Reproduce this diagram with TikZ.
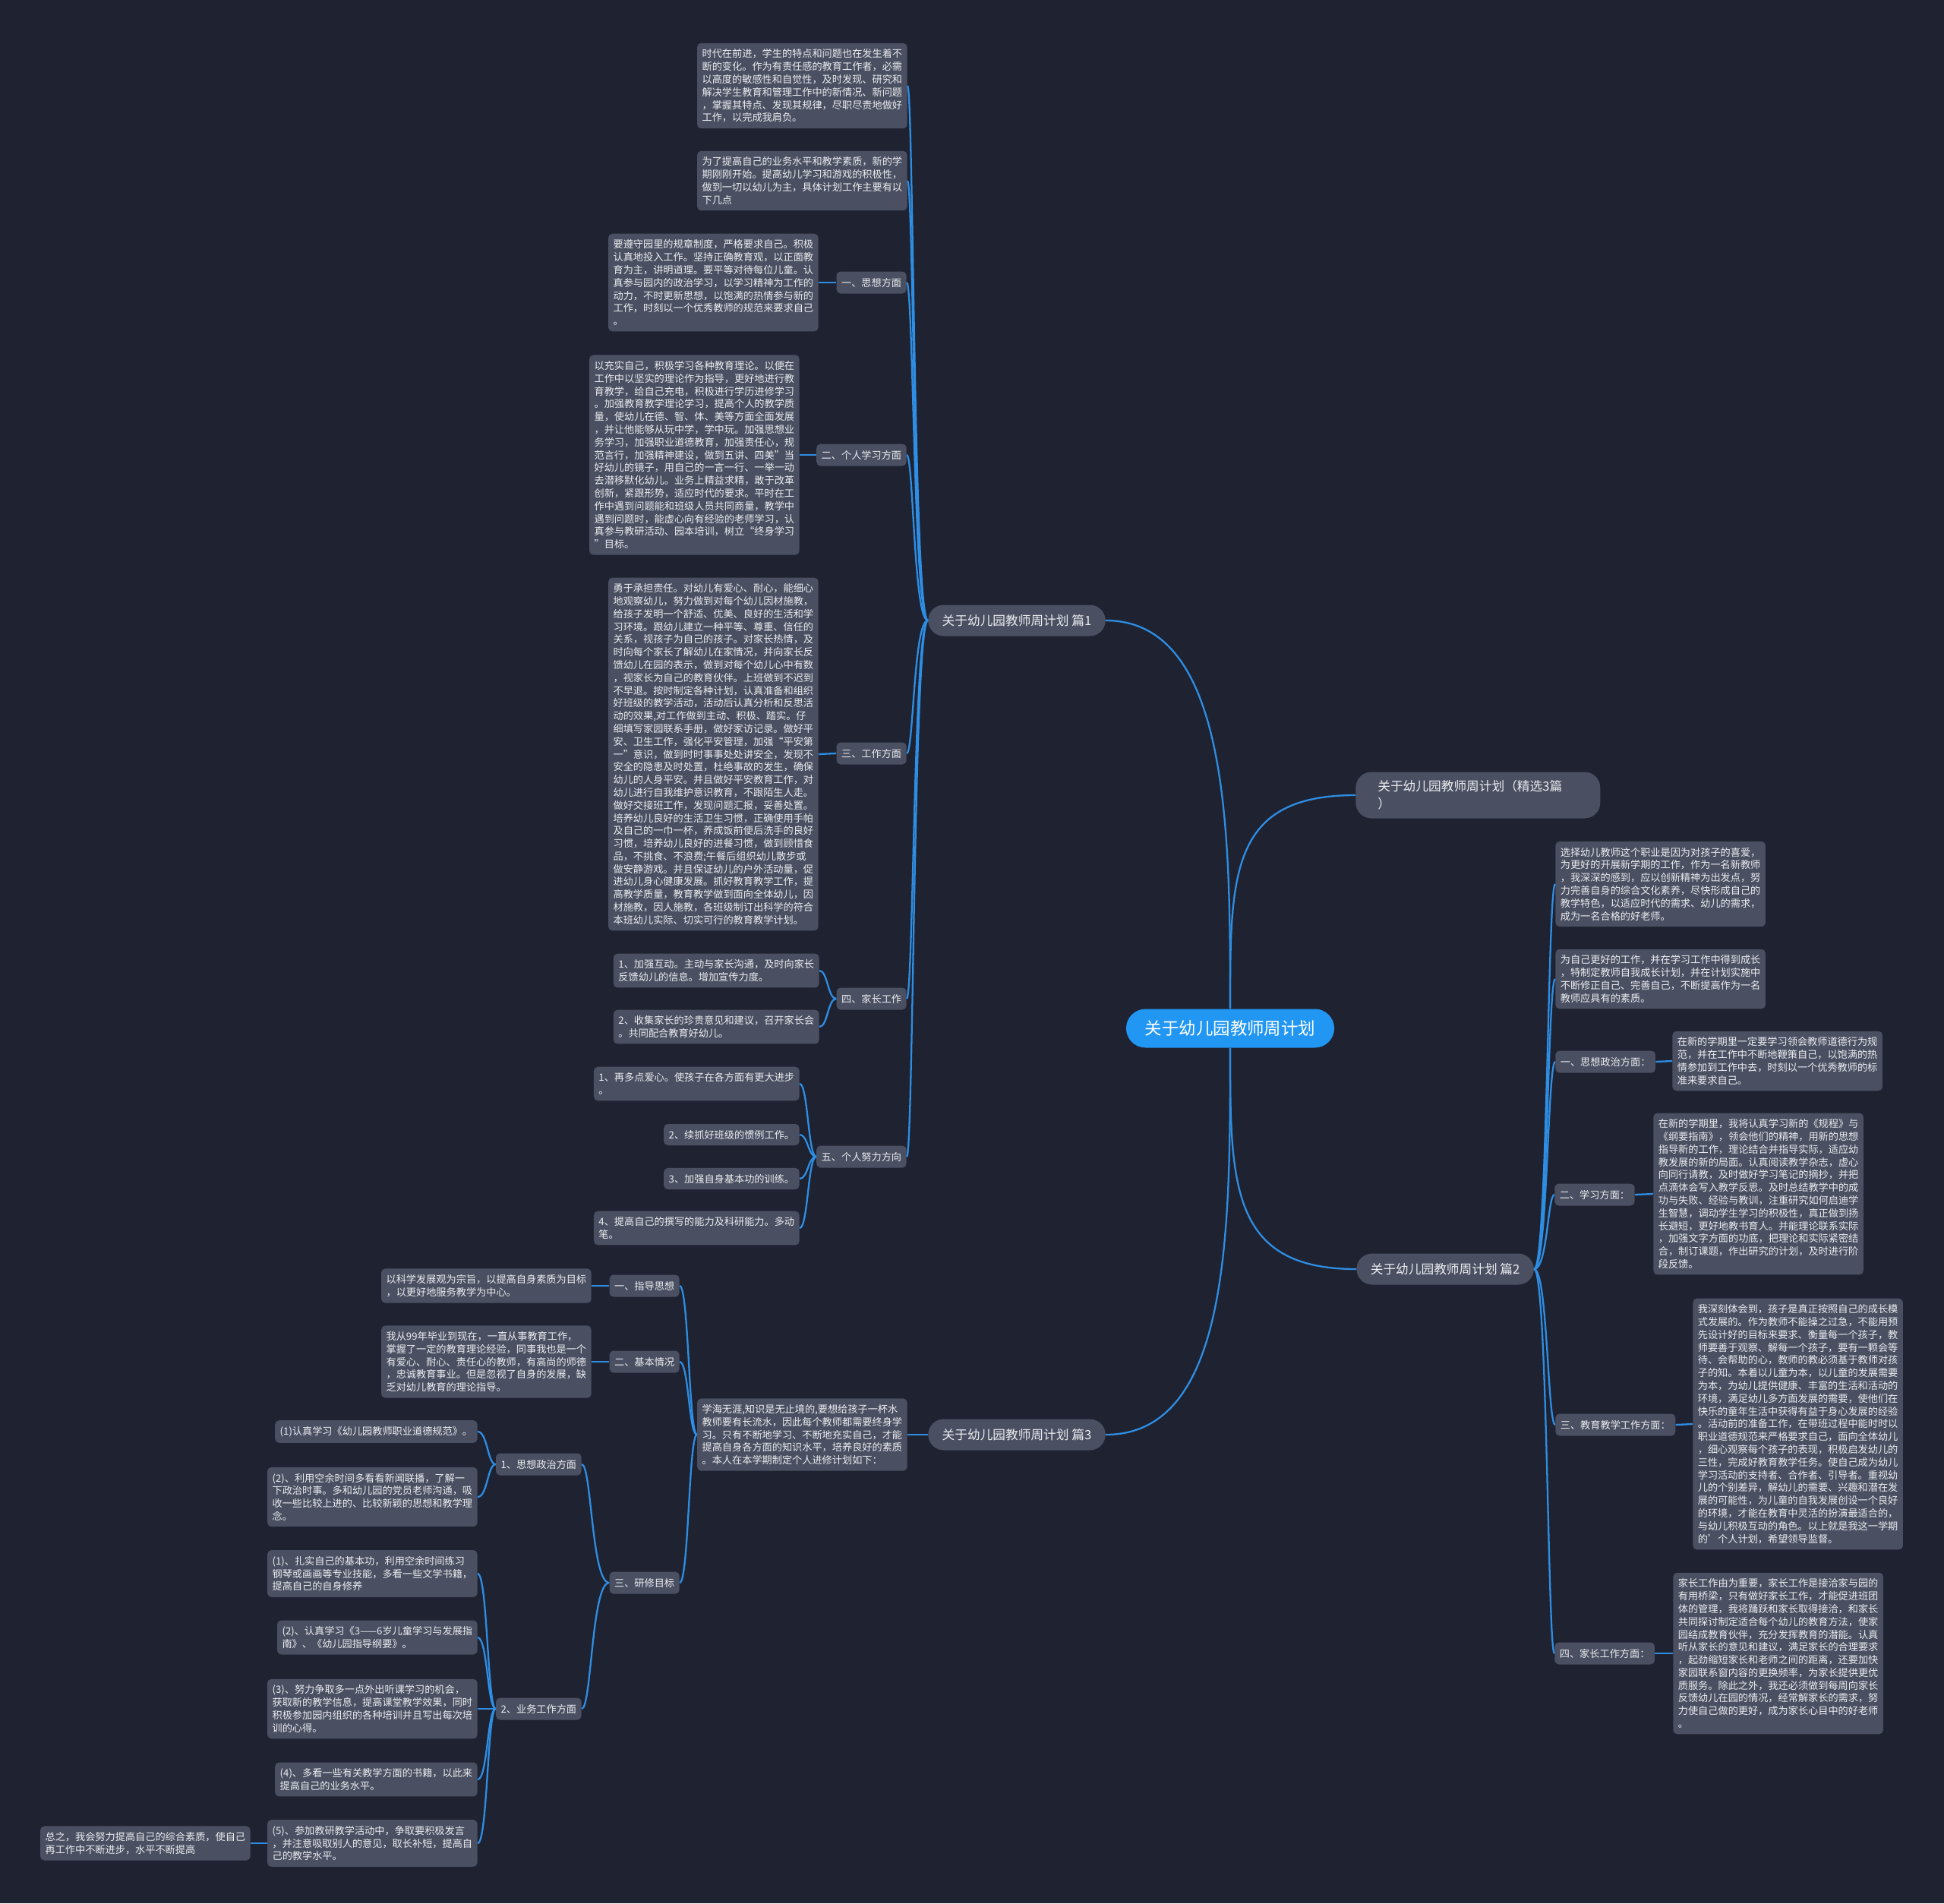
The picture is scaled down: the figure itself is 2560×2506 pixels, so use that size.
\documentclass[tikz,border=0pt]{standalone}
\usepackage{fontspec}
\setmainfont{Noto Sans CJK SC}
\usepackage{xcolor}

\definecolor{bgnavy}{HTML}{1F2230}
\definecolor{boxgray}{HTML}{4A5062}
\definecolor{rootblue}{HTML}{2196F3}
\definecolor{linkblue}{HTML}{2E8EE4}
\definecolor{txtwhite}{HTML}{ECEDF0}

\newcommand\leaffont{\fontsize{7.5}{9.56}\selectfont}
\newcommand\brfont{\fontsize{9.5}{13}\selectfont}
\newcommand\rtfont{\fontsize{12.8}{15}\selectfont}
% curved connectors through a trunk line
\newcommand\lbranch[3]{\draw[link] (#1.west) .. controls (#3 |- #1.west) and (#3 |- #2.east) .. (#2.east);}
\newcommand\rbranch[3]{\draw[link] (#1.east) .. controls (#3 |- #1.east) and (#3 |- #2.west) .. (#2.west);}

\begin{document}
\begin{tikzpicture}[x=0.02cm, y=-0.02cm,
    leaf/.style={fill=boxgray, text=txtwhite, rounded corners=3pt, align=left,
        inner xsep=3.7pt, inner ysep=4.5pt, font=\leaffont},
    topic/.style={fill=boxgray, text=txtwhite, rounded corners=3pt,
        inner xsep=3.7pt, minimum height=0.58cm, font=\leaffont},
    mainbranch/.style={fill=boxgray, text=txtwhite, rounded corners=0.41cm,
        minimum height=0.82cm, inner xsep=10.5pt, font=\brfont},
    rootnode/.style={fill=rootblue, text=white, rounded corners=0.51cm,
        minimum height=1.02cm, inner xsep=14pt, font=\rtfont},
    link/.style={draw=linkblue, line width=1.3pt}]

    \fill[bgnavy] (0,0) rectangle (2560,2506);
    \useasboundingbox (0,0) rectangle (2560,2506);

    % trunk lines
    \coordinate (k1) at (1203,0);
    \coordinate (k2) at (2038,0);
    \coordinate (k3) at (907,0);
    \coordinate (k4) at (1090,0);
    \coordinate (k5) at (1064,0);
    \coordinate (k6) at (779,0);
    \coordinate (k7) at (642,0);

    % Root and main branches
    \node[rootnode] (root) at (1620,1354) {关于幼儿园教师周计划};
    \node[mainbranch] (b1) at (1339,817) {关于幼儿园教师周计划 篇1};
    \node[mainbranch, anchor=west, align=left, text width=5.28cm, inner xsep=16.5pt,
        minimum height=1.22cm] (intro) at (1785,1047) {关于幼儿园教师周计划（精选3篇\\）};
    \node[mainbranch, anchor=west] (b2) at (1786,1671) {关于幼儿园教师周计划 篇2};
    \node[mainbranch] (b3) at (1339,1889) {关于幼儿园教师周计划 篇3};

    \draw[link] (root.north) .. controls (1620,1100) and (1620,817) .. (b1.east);
    \draw[link] (root.north) .. controls (1620,1150) and (1620,1047) .. (intro.west);
    \draw[link] (root.south) .. controls (1620,1560) and (1620,1671) .. (b2.west);
    \draw[link] (root.south) .. controls (1620,1620) and (1620,1889) .. (b3.east);

    % Part 1
    \node[leaf, anchor=east] (a1) at (1195,113) {时代在前进，学生的特点和问题也在发生着不\\
        断的变化。作为有责任感的教育工作者，必需\\
        以高度的敏感性和自觉性，及时发现、研究和\\
        解决学生教育和管理工作中的新情况、新问题\\
        ，掌握其特点、发现其规律，尽职尽责地做好\\
        工作，以完成我肩负。};
    \node[leaf, anchor=east] (a2) at (1195,238) {为了提高自己的业务水平和教学素质，新的学\\
        期刚刚开始。提高幼儿学习和游戏的积极性，\\
        做到一切以幼儿为主，具体计划工作主要有以\\
        下几点};
    \node[topic, anchor=east] (s1) at (1194,372) {一、思想方面};
    \node[leaf, anchor=east] (s1t) at (1078,372) {要遵守园里的规章制度，严格要求自己。积极\\
        认真地投入工作。坚持正确教育观，以正面教\\
        育为主，讲明道理。要平等对待每位儿童。认\\
        真参与园内的政治学习，以学习精神为工作的\\
        动力，不时更新思想，以饱满的热情参与新的\\
        工作，时刻以一个优秀教师的规范来要求自己\\
        。};
    \node[topic, anchor=east] (s2) at (1194,599) {二、个人学习方面};
    \node[leaf, anchor=east] (s2t) at (1053,599) {以充实自己，积极学习各种教育理论。以便在\\
        工作中以坚实的理论作为指导，更好地进行教\\
        育教学，给自己充电，积极进行学历进修学习\\
        。加强教育教学理论学习，提高个人的教学质\\
        量，使幼儿在德、智、体、美等方面全面发展\\
        ，并让他能够从玩中学，学中玩。加强思想业\\
        务学习，加强职业道德教育，加强责任心，规\\
        范言行，加强精神建设，做到五讲、四美”当\\
        好幼儿的镜子，用自己的一言一行、一举一动\\
        去潜移默化幼儿。业务上精益求精，敢于改革\\
        创新，紧跟形势，适应时代的要求。平时在工\\
        作中遇到问题能和班级人员共同商量，教学中\\
        遇到问题时，能虚心向有经验的老师学习，认\\
        真参与教研活动、园本培训，树立“终身学习\\
        ”目标。};
    \node[topic, anchor=east] (s3) at (1194,992) {三、工作方面};
    \node[leaf, anchor=east] (s3t) at (1078,993) {勇于承担责任。对幼儿有爱心、耐心，能细心\\
        地观察幼儿，努力做到对每个幼儿因材施教，\\
        给孩子发明一个舒适、优美、良好的生活和学\\
        习环境。跟幼儿建立一种平等、尊重、信任的\\
        关系，视孩子为自己的孩子。对家长热情，及\\
        时向每个家长了解幼儿在家情况，并向家长反\\
        馈幼儿在园的表示，做到对每个幼儿心中有数\\
        ，视家长为自己的教育伙伴。上班做到不迟到\\
        不早退。按时制定各种计划，认真准备和组织\\
        好班级的教学活动，活动后认真分析和反思活\\
        动的效果,对工作做到主动、积极、踏实。仔\\
        细填写家园联系手册，做好家访记录。做好平\\
        安、卫生工作，强化平安管理，加强“平安第\\
        一”意识，做到时时事事处处讲安全，发现不\\
        安全的隐患及时处置，杜绝事故的发生，确保\\
        幼儿的人身平安。并且做好平安教育工作，对\\
        幼儿进行自我维护意识教育，不跟陌生人走。\\
        做好交接班工作，发现问题汇报，妥善处置。\\
        培养幼儿良好的生活卫生习惯，正确使用手帕\\
        及自己的一巾一杯，养成饭前便后洗手的良好\\
        习惯，培养幼儿良好的进餐习惯，做到顾惜食\\
        品，不挑食、不浪费;午餐后组织幼儿散步或\\
        做安静游戏。并且保证幼儿的户外活动量，促\\
        进幼儿身心健康发展。抓好教育教学工作，提\\
        高教学质量，教育教学做到面向全体幼儿，因\\
        材施教，因人施教，各班级制订出科学的符合\\
        本班幼儿实际、切实可行的教育教学计划。};
    \node[topic, anchor=east] (s4) at (1194,1315) {四、家长工作};
    \node[leaf, anchor=east] (s4a) at (1079,1278) {1、加强互动。主动与家长沟通，及时向家长\\
        反馈幼儿的信息。增加宣传力度。};
    \node[leaf, anchor=east] (s4b) at (1079,1352) {2、收集家长的珍贵意见和建议，召开家长会\\
        。共同配合教育好幼儿。};
    \node[topic, anchor=east] (s5) at (1194,1523) {五、个人努力方向};
    \node[leaf, anchor=east] (s5a) at (1053,1427) {1、再多点爱心。使孩子在各方面有更大进步\\
        。};
    \node[leaf, anchor=east] (s5b) at (1053,1494) {2、续抓好班级的惯例工作。};
    \node[leaf, anchor=east] (s5c) at (1053,1552) {3、加强自身基本功的训练。};
    \node[leaf, anchor=east] (s5d) at (1053,1617) {4、提高自己的撰写的能力及科研能力。多动\\
        笔。};

    \foreach \c in {a1,a2,s1,s2,s3,s4,s5} {\lbranch{b1}{\c}{k1}}
    \foreach \c in {s1,s2,s3} {\draw[link] (\c.west) -- (\c t.east);}
    \foreach \c in {s4a,s4b} {\lbranch{s4}{\c}{k4}}
    \foreach \c in {s5a,s5b,s5c,s5d} {\lbranch{s5}{\c}{k5}}

    % Part 2
    \node[leaf, anchor=west] (r1) at (2048,1164) {选择幼儿教师这个职业是因为对孩子的喜爱，\\
        为更好的开展新学期的工作，作为一名新教师\\
        ，我深深的感到，应以创新精神为出发点，努\\
        力完善自身的综合文化素养，尽快形成自己的\\
        教学特色，以适应时代的需求、幼儿的需求，\\
        成为一名合格的好老师。};
    \node[leaf, anchor=west] (r2) at (2048,1289) {为自己更好的工作，并在学习工作中得到成长\\
        ，特制定教师自我成长计划，并在计划实施中\\
        不断修正自己、完善自己，不断提高作为一名\\
        教师应具有的素质。};
    \node[topic, anchor=west] (q1) at (2048,1398) {一、思想政治方面：};
    \node[leaf, anchor=west] (q1t) at (2202,1397) {在新的学期里一定要学习领会教师道德行为规\\
        范，并在工作中不断地鞭策自己，以饱满的热\\
        情参加到工作中去，时刻以一个优秀教师的标\\
        准来要求自己。};
    \node[topic, anchor=west] (q2) at (2047,1573) {二、学习方面：};
    \node[leaf, anchor=west] (q2t) at (2177,1572) {在新的学期里，我将认真学习新的《规程》与\\
        《纲要指南》，领会他们的精神，用新的思想\\
        指导新的工作，理论结合并指导实际，适应幼\\
        教发展的新的局面。认真阅读教学杂志，虚心\\
        向同行请教，及时做好学习笔记的摘抄，并把\\
        点滴体会写入教学反思。及时总结教学中的成\\
        功与失败、经验与教训，注重研究如何启迪学\\
        生智慧，调动学生学习的积极性，真正做到扬\\
        长避短，更好地教书育人。并能理论联系实际\\
        ，加强文字方面的功底，把理论和实际紧密结\\
        合，制订课题，作出研究的计划，及时进行阶\\
        段反馈。};
    \node[topic, anchor=west] (q3) at (2048,1876) {三、教育教学工作方面：};
    \node[leaf, anchor=west] (q3t) at (2229,1875) {我深刻体会到，孩子是真正按照自己的成长模\\
        式发展的。作为教师不能操之过急，不能用预\\
        先设计好的目标来要求、衡量每一个孩子，教\\
        师要善于观察、解每一个孩子，要有一颗会等\\
        待、会帮助的心，教师的教必须基于教师对孩\\
        子的知。本着以儿童为本，以儿童的发展需要\\
        为本，为幼儿提供健康、丰富的生活和活动的\\
        环境，满足幼儿多方面发展的需要，使他们在\\
        快乐的童年生活中获得有益于身心发展的经验\\
        。活动前的准备工作，在带班过程中能时时以\\
        职业道德规范来严格要求自己，面向全体幼儿\\
        ，细心观察每个孩子的表现，积极启发幼儿的\\
        三性，完成好教育教学任务。使自己成为幼儿\\
        学习活动的支持者、合作者、引导者。重视幼\\
        儿的个别差异，解幼儿的需要、兴趣和潜在发\\
        展的可能性，为儿童的自我发展创设一个良好\\
        的环境，才能在教育中灵活的扮演最适合的，\\
        与幼儿积极互动的角色。以上就是我这一学期\\
        的'个人计划，希望领导监督。};
    \node[topic, anchor=west] (q4) at (2047,2177) {四、家长工作方面：};
    \node[leaf, anchor=west] (q4t) at (2203,2177) {家长工作由为重要，家长工作是接洽家与园的\\
        有用桥梁，只有做好家长工作，才能促进班团\\
        体的管理，我将踊跃和家长取得接洽，和家长\\
        共同探讨制定适合每个幼儿的教育方法，使家\\
        园结成教育伙伴，充分发挥教育的潜能。认真\\
        听从家长的意见和建议，满足家长的合理要求\\
        ，起劲缩短家长和老师之间的距离，还要加快\\
        家园联系窗内容的更换频率，为家长提供更优\\
        质服务。除此之外，我还必须做到每周向家长\\
        反馈幼儿在园的情况，经常解家长的需求，努\\
        力使自己做的更好，成为家长心目中的好老师\\
        。};

    \foreach \c in {r1,r2,q1,q2,q3,q4} {\rbranch{b2}{\c}{k2}}
    \foreach \c in {q1,q2,q3,q4} {\draw[link] (\c.east) -- (\c t.west);}

    % Part 3
    \node[leaf, anchor=east] (m3) at (1195,1889) {学海无涯,知识是无止境的,要想给孩子一杯水\\
        教师要有长流水，因此每个教师都需要终身学\\
        习。只有不断地学习、不断地充实自己，才能\\
        提高自身各方面的知识水平，培养良好的素质\\
        。本人在本学期制定个人进修计划如下：};
    \node[topic, anchor=east] (t1) at (895,1693) {一、指导思想};
    \node[leaf, anchor=east] (t1t) at (779,1693) {以科学发展观为宗旨，以提高自身素质为目标\\
        ，以更好地服务教学为中心。};
    \node[topic, anchor=east] (t2) at (895,1793) {二、基本情况};
    \node[leaf, anchor=east] (t2t) at (779,1793) {我从99年毕业到现在，一直从事教育工作，\\
        掌握了一定的教育理论经验，同事我也是一个\\
        有爱心、耐心、责任心的教师，有高尚的师德\\
        ，忠诚教育事业。但是忽视了自身的发展，缺\\
        乏对幼儿教育的理论指导。};
    \node[topic, anchor=east] (t3) at (895,2084) {三、研修目标};
    \node[topic, anchor=east] (u1) at (766,1928) {1、思想政治方面};
    \node[leaf, anchor=east] (u1a) at (629,1885) {(1)认真学习《幼儿园教师职业道德规范》。};
    \node[leaf, anchor=east] (u1b) at (629,1971) {(2)、利用空余时间多看看新闻联播，了解一\\
        下政治时事。多和幼儿园的党员老师沟通，吸\\
        收一些比较上进的、比较新颖的思想和教学理\\
        念。};
    \node[topic, anchor=east] (u2) at (766,2250) {2、业务工作方面};
    \node[leaf, anchor=east] (u2a) at (629,2072) {(1)、扎实自己的基本功，利用空余时间练习\\
        钢琴或画画等专业技能，多看一些文学书籍，\\
        提高自己的自身修养};
    \node[leaf, anchor=east] (u2b) at (629,2156) {(2)、认真学习《3——6岁儿童学习与发展指\\
        南》、《幼儿园指导纲要》。};
    \node[leaf, anchor=east] (u2c) at (629,2250) {(3)、努力争取多一点外出听课学习的机会，\\
        获取新的教学信息，提高课堂教学效果，同时\\
        积极参加园内组织的各种培训并且写出每次培\\
        训的心得。};
    \node[leaf, anchor=east] (u2d) at (629,2343) {(4)、多看一些有关教学方面的书籍，以此来\\
        提高自己的业务水平。};
    \node[leaf, anchor=east] (u2e) at (629,2427) {(5)、参加教研教学活动中，争取要积极发言\\
        ，并注意吸取别人的意见，取长补短，提高自\\
        己的教学水平。};
    \node[leaf, anchor=east] (fin) at (330,2427) {总之，我会努力提高自己的综合素质，使自己\\
        再工作中不断进步，水平不断提高};

    \draw[link] (b3.west) -- (m3.east);
    \foreach \c in {t1,t2,t3} {\lbranch{m3}{\c}{k3}}
    \foreach \c in {t1,t2} {\draw[link] (\c.west) -- (\c t.east);}
    \foreach \c in {u1,u2} {\lbranch{t3}{\c}{k6}}
    \foreach \c in {u1a,u1b} {\lbranch{u1}{\c}{k7}}
    \foreach \c in {u2a,u2b,u2c,u2d,u2e} {\lbranch{u2}{\c}{k7}}
    \draw[link] (u2e.west) -- (fin.east);
\end{tikzpicture}
\end{document}
